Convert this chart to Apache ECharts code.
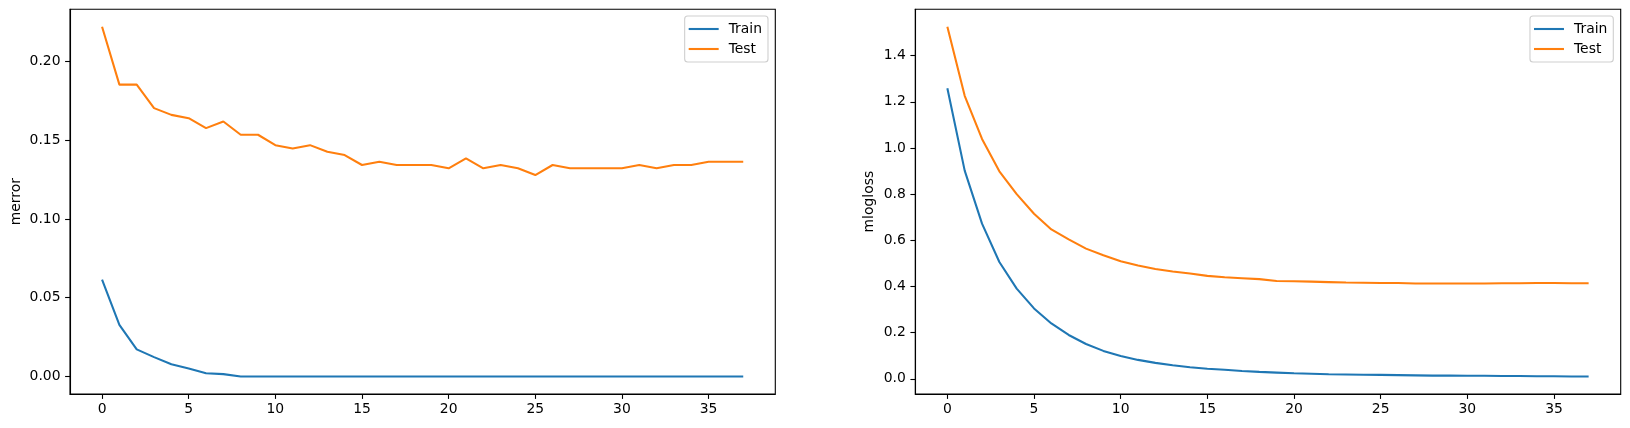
<!DOCTYPE html>
<html>
<head>
<meta charset="utf-8">
<script src="https://cdn.jsdelivr.net/npm/echarts@6/dist/echarts.min.js"></script>
<style>
html,body{margin:0;padding:0;background:#fff;}
#chart{width:1630px;height:428px;}
</style>
</head>
<body>
<div id="chart"></div>
<script>
const epochs = [];
for (let i = 0; i < 38; i++) epochs.push(i);

const merrorTrain = [0.0614, 0.0328, 0.0172, 0.0123, 0.0078, 0.0051, 0.0021, 0.0015, 0, 0,
  0, 0, 0, 0, 0, 0, 0, 0, 0, 0, 0, 0, 0, 0, 0, 0, 0, 0, 0, 0, 0, 0, 0, 0, 0, 0, 0, 0];
const merrorTest = [0.2219, 0.1852, 0.1852, 0.1703, 0.1660, 0.1639, 0.1576, 0.1618, 0.1534, 0.1534,
  0.1468, 0.1447, 0.1468, 0.1426, 0.1405, 0.1342, 0.1363, 0.1342, 0.1342, 0.1342,
  0.1321, 0.1384, 0.1321, 0.1342, 0.1321, 0.1278, 0.1342, 0.1321, 0.1321, 0.1321,
  0.1321, 0.1342, 0.1321, 0.1342, 0.1342, 0.1363, 0.1363, 0.1363];
const mloglossTrain = [1.259, 0.902, 0.672, 0.506, 0.391, 0.305, 0.240, 0.190, 0.151, 0.121,
  0.099, 0.082, 0.069, 0.059, 0.050, 0.044, 0.039, 0.034, 0.030, 0.027,
  0.024, 0.022, 0.020, 0.019, 0.018, 0.017, 0.016, 0.015, 0.014, 0.014,
  0.013, 0.013, 0.012, 0.012, 0.011, 0.011, 0.010, 0.010];
const mloglossTest = [1.525, 1.226, 1.039, 0.899, 0.800, 0.715, 0.647, 0.604, 0.564, 0.535,
  0.509, 0.491, 0.476, 0.465, 0.456, 0.446, 0.440, 0.436, 0.432, 0.424,
  0.423, 0.421, 0.419, 0.417, 0.416, 0.415, 0.415, 0.413, 0.413, 0.413,
  0.413, 0.413, 0.414, 0.414, 0.415, 0.415, 0.414, 0.414];

const xTicks = [0, 5, 10, 15, 20, 25, 30, 35];
const yTicksLeft = [0, 0.05, 0.10, 0.15, 0.20];
const yTicksRight = [0, 0.2, 0.4, 0.6, 0.8, 1.0, 1.2, 1.4];
const seriesNames = ['Train', 'Test'];
const yNames = ['merror', 'mlogloss'];

const BLUE = '#1f77b4', ORANGE = '#ff7f0e';
const FONT = 'DejaVu Sans';
const FS = 13.9;

function pairs(arr) { return arr.map((v, i) => [epochs[i], v]); }
function range(arrs) {
  let lo = Infinity, hi = -Infinity;
  arrs.forEach(a => a.forEach(v => { lo = Math.min(lo, v); hi = Math.max(hi, v); }));
  const m = (hi - lo) * 0.05;
  return [lo - m, hi + m];
}
const xr = range([epochs]);
const yrL = range([merrorTrain, merrorTest]);
const yrR = range([mloglossTrain, mloglossTest]);

function xAxis(gi) {
  return {
    type: 'value', gridIndex: gi, min: xr[0], max: xr[1],
    splitLine: { show: false },
    axisLine: { show: true, onZero: false, lineStyle: { color: '#000', width: 1.1 } },
    axisTick: { show: true, customValues: xTicks, length: 4.9, lineStyle: { color: '#000', width: 1.1 } },
    axisLabel: { customValues: xTicks, margin: 8, color: '#000', fontFamily: FONT, fontSize: FS,
      formatter: v => String(v) }
  };
}
function yAxis(gi, r, ticks, dec, name, gap) {
  return {
    type: 'value', gridIndex: gi, min: r[0], max: r[1],
    name: name, nameLocation: 'middle', nameRotate: 90, nameGap: gap,
    nameTextStyle: { color: '#000', fontFamily: FONT, fontSize: FS },
    splitLine: { show: false },
    axisLine: { show: true, onZero: false, lineStyle: { color: '#000', width: 1.1 } },
    axisTick: { show: true, customValues: ticks, length: 4.9, lineStyle: { color: '#000', width: 1.1 } },
    axisLabel: { customValues: ticks, margin: 9.5, color: '#000', fontFamily: FONT, fontSize: FS,
      formatter: v => Number(v).toFixed(dec) }
  };
}
function legend(right) {
  return {
    orient: 'vertical', right: right, top: 16,
    data: seriesNames,
    icon: 'rect', itemWidth: 30, itemHeight: 2.1, itemGap: 6,
    padding: [6, 6, 6, 4],
    backgroundColor: 'rgba(255,255,255,0.8)',
    borderColor: '#cfcfcf', borderWidth: 1.1, borderRadius: 3,
    textStyle: { color: '#000', fontFamily: FONT, fontSize: FS, lineHeight: 14, padding: [0, 0, 0, 5] },
    selectedMode: false
  };
}
function line(name, data, color, xi, yi) {
  return {
    type: 'line', name: name, xAxisIndex: xi, yAxisIndex: yi,
    data: pairs(data), showSymbol: false, symbol: 'none', smooth: false,
    lineStyle: { color: color, width: 2.08 }, itemStyle: { color: color },
    animation: false
  };
}

const option = {
  animation: false,
  backgroundColor: '#fff',
  grid: [
    { left: 70, top: 9.3, width: 705.3, height: 384.7, show: true, borderColor: '#000', borderWidth: 1.1, backgroundColor: 'transparent' },
    { left: 915.3, top: 9.3, width: 705.4, height: 384.7, show: true, borderColor: '#000', borderWidth: 1.1, backgroundColor: 'transparent' }
  ],
  xAxis: [xAxis(0), xAxis(1)],
  yAxis: [
    yAxis(0, yrL, yTicksLeft, 2, yNames[0], 47),
    yAxis(1, yrR, yTicksRight, 1, yNames[1], 39)
  ],
  legend: [legend(1630 - 768), legend(1630 - 1613.3)],
  series: [
    line(seriesNames[0], merrorTrain, BLUE, 0, 0),
    line(seriesNames[1], merrorTest, ORANGE, 0, 0),
    line(seriesNames[0], mloglossTrain, BLUE, 1, 1),
    line(seriesNames[1], mloglossTest, ORANGE, 1, 1)
  ]
};
const chart = echarts.init(document.getElementById('chart'), null, { renderer: 'canvas' });
chart.setOption(option);
</script>
</body>
</html>
